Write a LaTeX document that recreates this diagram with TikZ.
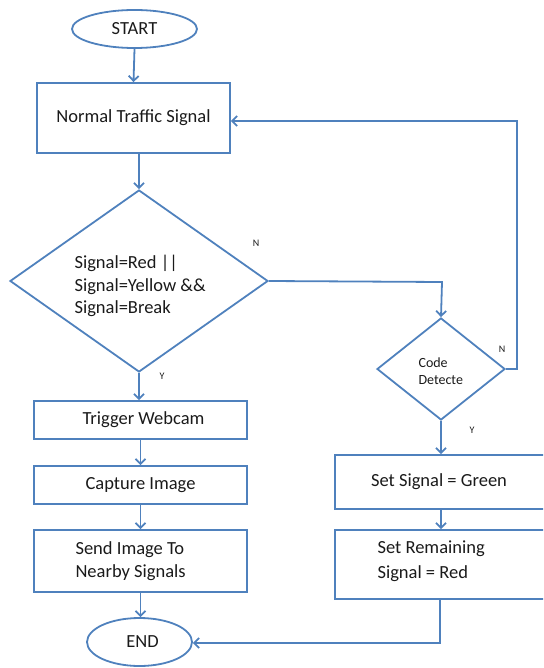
\documentclass[tikz,border=0pt]{standalone}
\usepackage{fontspec}
\setmainfont{Carlito}
\usetikzlibrary{shapes.geometric,arrows.meta}
\definecolor{lineblue}{HTML}{4F81BD}
\definecolor{txt}{HTML}{1A1A1A}
\begin{document}
\begin{tikzpicture}[x=1pt,y=-1pt,
  every node/.style={text=txt, font=\fontsize{18.5}{22.5}\selectfont},
  flowbox/.style={draw=lineblue, line width=1.8pt, rectangle, inner sep=0pt},
  oval/.style={draw=lineblue, line width=1.8pt, ellipse, inner sep=0pt},
  decide/.style={draw=lineblue, line width=1.8pt, diamond, inner sep=0pt},
  conn/.style={draw=lineblue, line width=1.8pt, -{Straight Barb[length=5pt,width=10pt,line width=1.8pt]}},
  lbl/.style={font=\fontsize{10}{12}\selectfont}
]
\useasboundingbox (0,0) rectangle (543,668);
\begin{scope}
\clip (0,0) rectangle (543,668);

\node[oval, minimum width=125pt, minimum height=38pt] (start) at (134.5,29) {START};
\node[flowbox, minimum width=193pt, minimum height=70pt] (nts) at (133.5,118) {Normal Traffic Signal};
\node[decide, minimum width=258pt, minimum height=182pt] (d1) at (139,281) {};
\node[anchor=west, align=left] (d1t) at (71,286) {Signal=Red ||\\Signal=Yellow \&\&\\Signal=Break};
\node[flowbox, minimum width=213pt, minimum height=38pt] (trig) at (140.5,420) {\hspace*{6pt}Trigger Webcam};
\node[flowbox, minimum width=213pt, minimum height=38pt] (cap) at (140.5,485) {Capture Image};
\node[flowbox, minimum width=213pt, minimum height=62pt] (send) at (140.5,561) {};
\node[anchor=west, align=left] (sendt) at (72,561) {Send Image To\\Nearby Signals};
\node[oval, minimum width=105pt, minimum height=48pt] (end) at (139.5,642) {\hspace*{6pt}END};

\node[decide, minimum width=128pt, minimum height=102pt] (d2) at (441,369) {};
\node[anchor=west, align=left, font=\fontsize{14}{17}\selectfont] (d2t) at (415,371.5) {Code\\Detecte};
\node[flowbox, minimum width=212pt, minimum height=54pt] (green) at (441,482) {\hspace*{-4pt}Set Signal = Green};
\node[flowbox, minimum width=212pt, minimum height=69pt] (rem) at (441,564.5) {};
\node[anchor=west, align=left, font=\fontsize{18.5}{25}\selectfont] (remt) at (374,561) {Set Remaining\\Signal = Red};

\node[lbl] (n1) at (256,243) {N};
\node[lbl] (y1) at (162,376) {Y};
\node[lbl] (n2) at (502,349) {N};
\node[lbl] (y2) at (472,430) {Y};

\coordinate (c1) at (442,282);
\coordinate (c2) at (517,369);
\coordinate (c3) at (517,121);
\coordinate (c4) at (440,643);

\draw[conn] (start.south) -- (nts.north);
\draw[conn] (nts.south -| d1.north) -- (d1.north);
\draw[conn] (d1.south) -- (trig.north -| d1.south);
\draw[conn] (trig.south) -- (cap.north);
\draw[conn] (cap.south) -- (send.north);
\draw[conn] (send.south) -- (end.north -| send.south);
\draw[conn] (d1.east) -- (c1) -- (d2.north);
\draw[conn] (d2.east) -- (c2) -- (c3) -- (nts.east |- c3);
\draw[conn] (d2.south) -- (green.north);
\draw[conn] (green.south) -- (rem.north);
\draw[conn] (rem.south -| c4) -- (c4) -- (end.east |- c4);
\end{scope}
\end{tikzpicture}
\end{document}
